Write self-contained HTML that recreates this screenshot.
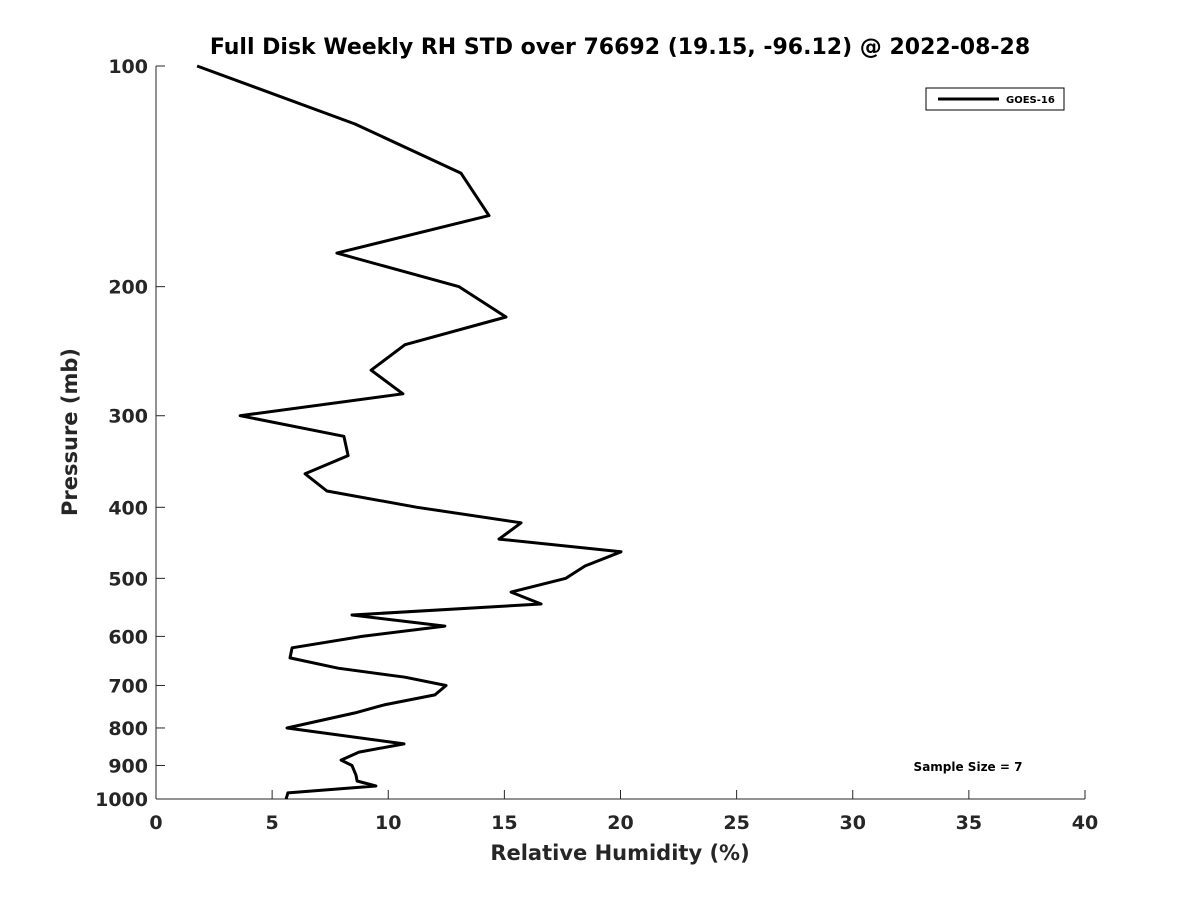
<!DOCTYPE html>
<html><head><meta charset="utf-8"><style>
body{margin:0;background:#fff;}
svg text{font-family:"DejaVu Sans","Liberation Sans",sans-serif;font-weight:bold;fill:#262626;}
</style></head><body>
<svg width="1200" height="900" xmlns="http://www.w3.org/2000/svg">
<text x="620" y="54" font-size="22" text-anchor="middle" fill="#000" style="fill:#000">Full Disk Weekly RH STD over 76692 (19.15, -96.12) @ 2022-08-28</text>
<g id="axes"></g>
<path id="line" fill="none" stroke="#000" stroke-width="3" stroke-linejoin="round"/>
<g>
<rect x="926" y="88" width="138" height="22" fill="#fff" stroke="#000" stroke-width="1"/>
<line x1="938" y1="99" x2="999" y2="99" stroke="#000" stroke-width="3"/>
<text x="1006" y="103" font-size="10" style="fill:#000">GOES-16</text>
</g>
<text x="968" y="771" font-size="12" text-anchor="middle" style="fill:#000">Sample Size = 7</text>
<text x="620" y="860" font-size="21" text-anchor="middle">Relative Humidity (%)</text>
<text transform="translate(77,432) rotate(-90)" font-size="21" text-anchor="middle">Pressure (mb)</text>
</svg>
<script>
const rhValues=[1.77,8.57,13.13,14.34,7.79,13.05,15.07,10.72,9.26,10.63,3.62,8.09,8.27,6.42,7.36,11.24,15.72,14.77,20.02,18.47,17.65,15.29,16.58,8.44,12.44,8.87,5.86,5.77,7.84,10.72,12.49,12.01,9.82,8.57,5.64,10.68,8.74,7.97,8.44,8.61,8.66,9.47,5.68,5.6];
const pressures=[100,120,140,160,180,200,220,240,260,280,300,320,340,360,380,400,420,442,460,481,500,522,542,561,581,600,622,642,663,682,700,721,744,763,800,841,863,885,900,928,945,960,981,1000];
const xTicks=[0,5,10,15,20,25,30,35,40];
const yTicks=[100,200,300,400,500,600,700,800,900,1000];
const X0=156,X1=1085,Y0=66,Y1=799;
const xs=v=>X0+(v-0)/40*(X1-X0);
const ys=p=>Y0+Math.log10(p/100)*(Y1-Y0);
const NS="http://www.w3.org/2000/svg";
const g=document.getElementById('axes');
function mk(t,a){const e=document.createElementNS(NS,t);for(const k in a)e.setAttribute(k,a[k]);g.appendChild(e);return e;}
let e=mk('line',{x1:X0,y1:Y1,x2:X1,y2:Y1,stroke:'#262626','stroke-width':1});


e=mk('line',{x1:X0,y1:Y0,x2:X0,y2:Y1,stroke:'#262626','stroke-width':1});


xTicks.forEach(v=>{const x=xs(v);
mk('line',{x1:x,y1:Y1,x2:x,y2:Y1-9,stroke:'#262626'});
const t=mk('text',{x:x,y:Y1+30,'font-size':19,'text-anchor':'middle'});t.textContent=v;

});
yTicks.forEach(p=>{const y=ys(p);
mk('line',{x1:X0,y1:y,x2:X0+9,y2:y,stroke:'#262626'});
const t=mk('text',{x:X0-8,y:y+7,'font-size':19,'text-anchor':'end'});t.textContent=p;

});
document.getElementById('line').setAttribute('d',rhValues.map((v,i)=>(i?'L':'M')+xs(v).toFixed(1)+','+ys(pressures[i]).toFixed(1)).join(''));
</script>
</body></html>
